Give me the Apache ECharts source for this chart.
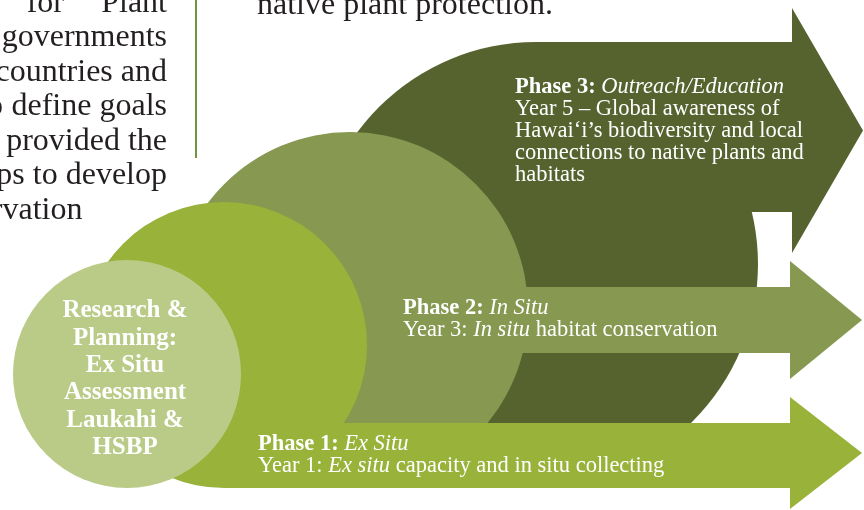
<!DOCTYPE html>
<html>
<head>
<meta charset="utf-8">
<script src="https://cdn.jsdelivr.net/npm/echarts@6/dist/echarts.min.js"></script>
<style>
  html, body { margin: 0; padding: 0; background: #fff; }
  #chart { width: 864px; height: 510px; }
</style>
</head>
<body>
<div id="chart"></div>
<script>
// labels of the diagram
const phaseLabels = ['Phase 1:', 'Phase 2:', 'Phase 3:'];
const phaseFocus = ['Ex Situ', 'In Situ', 'Outreach/Education'];
const phaseLines = [
  ['Year 1: {i|Ex situ} capacity and in situ collecting'],
  ['Year 3: {i|In situ} habitat conservation'],
  ['Year 5 – Global awareness of', 'Hawai‘i’s biodiversity and local', 'connections to native plants and', 'habitats']
];
const hubLines = ['Research &', 'Planning:', 'Ex Situ', 'Assessment', 'Laukahi &', 'HSBP'];
const introRight = ['Plant', 'governments', 'countries and', 'define goals', 'provided the', 'steps to develop'];
const introLast = 'conservation';
const topLine = 'native plant protection.';

const SERIF = '"Liberation Serif", "Times New Roman", serif';
const colors = ['#98b23a', '#879850', '#56632f'];
const PHASE_FONT = 22.5;

// shapes: circle + arrow body + arrow head for each phase
const layout = [
  { cx: 224, cy: 345, r: 143, top: 423, bottom: 488, neck: 790, headTop: 397, headBottom: 509, tip: 862, tx: 258, ty: 433.5, lh: 21.5 },
  { cx: 350, cy: 310, r: 178, top: 287, bottom: 353, neck: 790, headTop: 261, headBottom: 379, tip: 862, tx: 403, ty: 297.5, lh: 22 },
  { cx: 536, cy: 264, r: 222, top: 42, bottom: 212, neck: 792, headTop: 8, headBottom: 253, tip: 863, tx: 515, ty: 76.5, lh: 22 }
];

function richStyles(lh) {
  const base = { fontFamily: SERIF, fontSize: PHASE_FONT, lineHeight: lh, fill: '#fff' };
  return {
    b: Object.assign({}, base, { fontWeight: 'bold' }),
    i: Object.assign({}, base, { fontStyle: 'italic' }),
    n: base
  };
}

function phaseShapes(i) {
  const L = layout[i];
  const midY = (L.headTop + L.headBottom) / 2;
  return [
    { type: 'circle', shape: { cx: L.cx, cy: L.cy, r: L.r }, style: { fill: colors[i] } },
    {
      type: 'polygon',
      shape: {
        points: [
          [L.cx, L.top], [L.neck, L.top], [L.neck, L.headTop], [L.tip, midY],
          [L.neck, L.headBottom], [L.neck, L.bottom], [L.cx, L.bottom]
        ]
      },
      style: { fill: colors[i] }
    },
    {
      type: 'text',
      style: {
        x: L.tx, y: L.ty,
        text: ['{b|' + phaseLabels[i] + '} {i|' + phaseFocus[i] + '}']
          .concat(phaseLines[i].map(function (s) { return s.replace(/^([^{]+)/, '{n|$1}').replace(/\}([^{]+)$/, '}{n|$1}'); }))
          .join('\n'),
        rich: richStyles(L.lh),
        fontFamily: SERIF, fontSize: PHASE_FONT, lineHeight: L.lh, fill: '#fff',
        align: 'left', verticalAlign: 'top'
      }
    }
  ];
}

const elements = [];

// intro paragraph (cropped at the left edge)
const introBase = [13, 47.5, 82, 116.5, 151, 185.5, 220];
const introStyle = { fontFamily: SERIF, fontSize: 32, fill: '#231f20', verticalAlign: 'middle' };
introRight.forEach(function (s, k) {
  elements.push({ type: 'text', style: Object.assign({}, introStyle, { x: 167, y: introBase[k] - 9.8, text: s, align: 'right' }) });
});
elements.push({ type: 'text', style: Object.assign({}, introStyle, { x: 64, y: introBase[0] - 9.8, text: 'for', align: 'right' }) });
elements.push({ type: 'text', style: Object.assign({}, introStyle, { x: 3, y: introBase[3] - 9.8, text: 'to', align: 'right' }) });
elements.push({ type: 'text', style: Object.assign({}, introStyle, { x: -81, y: introBase[6] - 9.8, text: introLast, align: 'left' }) });
elements.push({ type: 'text', style: Object.assign({}, introStyle, { x: 257, y: 15 - 9.8, text: topLine, align: 'left' }) });

// column rule
elements.push({ type: 'line', shape: { x1: 196, y1: 0, x2: 196, y2: 158 }, style: { stroke: '#6e963c', lineWidth: 2 } });

// back to front: phase 3, phase 2, phase 1
[2, 1, 0].forEach(function (i) {
  phaseShapes(i).forEach(function (e) { elements.push(e); });
});

// hub circle
elements.push({ type: 'circle', shape: { cx: 127, cy: 374, r: 114 }, style: { fill: '#bacb88' } });
elements.push({
  type: 'text',
  style: {
    x: 125, y: 379.2,
    text: hubLines.join('\n'),
    fontFamily: SERIF, fontSize: 25, fontWeight: 'bold', lineHeight: 27.4,
    fill: '#fff', align: 'center', verticalAlign: 'middle'
  }
});

const chart = echarts.init(document.getElementById('chart'), null, { renderer: 'canvas' });
chart.setOption({
  backgroundColor: '#ffffff',
  animation: false,
  graphic: { elements: elements }
});
</script>
</body>
</html>
